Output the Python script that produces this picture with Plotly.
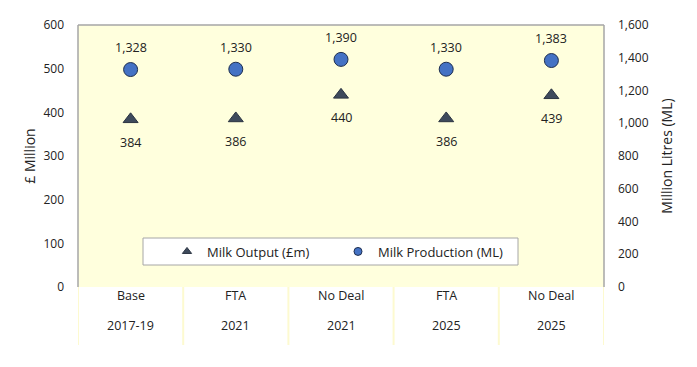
import plotly.graph_objects as go

scenarios = ["Base", "FTA", "No Deal", "FTA", "No Deal"]
years = ["2017-19", "2021", "2021", "2025", "2025"]
milk_output = [384, 386, 440, 386, 439]          # £m (left axis)
milk_production = [1328, 1330, 1390, 1330, 1383]  # ML (right axis)

xs = list(range(len(scenarios)))
FONT = "Open Sans"
TXT = "#222222"
TRI_COLOR = "#3E4A5C"
CIRC_COLOR = "#4472C4"

fig = go.Figure()
fig.add_trace(go.Scatter(
    x=xs, y=milk_output, mode="markers", name="Milk Output (£m)", showlegend=False,
    marker=dict(symbol="triangle-up", size=13, color=TRI_COLOR,
                line=dict(color="#2B3442", width=1)),
    yaxis="y",
))
fig.add_trace(go.Scatter(
    x=xs, y=milk_production, mode="markers", name="Milk Production (ML)", showlegend=False,
    marker=dict(symbol="circle", size=14, color=CIRC_COLOR,
                line=dict(color="#1F2F4F", width=1)),
    yaxis="y2",
))
# legend entries (smaller symbols as in the original legend)
fig.add_trace(go.Scatter(
    x=[None], y=[None], mode="markers", name="Milk Output (£m)",
    marker=dict(symbol="triangle-up", size=8, color=TRI_COLOR, line=dict(color="#2B3442", width=1)),
))
fig.add_trace(go.Scatter(
    x=[None], y=[None], mode="markers", name="Milk Production (ML)",
    marker=dict(symbol="circle", size=8, color=CIRC_COLOR, line=dict(color="#1F2F4F", width=1)),
))

shapes = []
# legend box
shapes.append(dict(type="rect", xref="paper", yref="paper",
                   x0=(143 - 78) / 526, x1=(518 - 78) / 526,
                   y0=(287 - 265) / 262, y1=(287 - 238) / 262,
                   fillcolor="white", line=dict(color="#A6A6A6", width=1), layer="below"))
# category separators below axis
for i in range(len(scenarios) + 1):
    shapes.append(dict(type="line", xref="x", yref="paper",
                       x0=i - 0.5, x1=i - 0.5, y0=0, y1=-58 / 262,
                       line=dict(color="#FDFAD0", width=2)))
# plot border (left, top, right) in gray
for x0, x1, y0, y1 in [(0, 0, 0, 1), (0, 1, 1, 1), (1, 1, 0, 1)]:
    shapes.append(dict(type="line", xref="paper", yref="paper", x0=x0, x1=x1, y0=y0, y1=y1,
                       line=dict(color="#A6A6A6", width=1.5)))

annotations = []
for i, (s, yr) in enumerate(zip(scenarios, years)):
    annotations.append(dict(x=i, y=-19 / 262, xref="x", yref="paper", text=s,
                            showarrow=False, font=dict(family=FONT, size=12.5, color=TXT)))
    annotations.append(dict(x=i, y=-49 / 262, xref="x", yref="paper", text=yr,
                            showarrow=False, font=dict(family=FONT, size=12.5, color=TXT)))
# data labels
for i, v in enumerate(milk_output):
    annotations.append(dict(x=i, y=v, xref="x", yref="y", text=f"{v:,}", yshift=-23,
                            showarrow=False, font=dict(family=FONT, size=12.5, color=TXT)))
for i, v in enumerate(milk_production):
    annotations.append(dict(x=i, y=v, xref="x", yref="y2", text=f"{v:,}", yshift=22,
                            showarrow=False, font=dict(family=FONT, size=12.5, color=TXT)))

fig.update_layout(
    width=697, height=367,
    margin=dict(l=78, r=93, t=25, b=80),
    paper_bgcolor="white", plot_bgcolor="#FFFFDD",
    font=dict(family=FONT, size=12, color=TXT),
    showlegend=True,
    legend=dict(orientation="h", x=(167 - 78) / 526, xanchor="left",
                y=(287 - 251.5) / 262, yanchor="middle",
                bgcolor="rgba(0,0,0,0)", borderwidth=0,
                font=dict(family=FONT, size=13, color=TXT),
                entrywidth=126, itemwidth=30),
    xaxis=dict(range=[-0.5, 4.5], showticklabels=False, showgrid=False,
               zeroline=False, showline=False, ticks=""),
    yaxis=dict(range=[0, 600], dtick=100, showgrid=False, zeroline=False,
               showline=False, ticks="", ticklabelstandoff=13,
               title=dict(text="£ Million", standoff=4, font=dict(size=14)),
               tickfont=dict(size=12)),
    yaxis2=dict(range=[0, 1600], dtick=200, overlaying="y", side="right",
                showgrid=False, zeroline=False, showline=False, ticks="",
                ticklabelstandoff=13, tickformat=",",
                title=dict(text="Million Litres (ML)", standoff=14, font=dict(size=14)),
                tickfont=dict(size=12)),
    shapes=shapes, annotations=annotations,
)

fig.write_html("out.html")
